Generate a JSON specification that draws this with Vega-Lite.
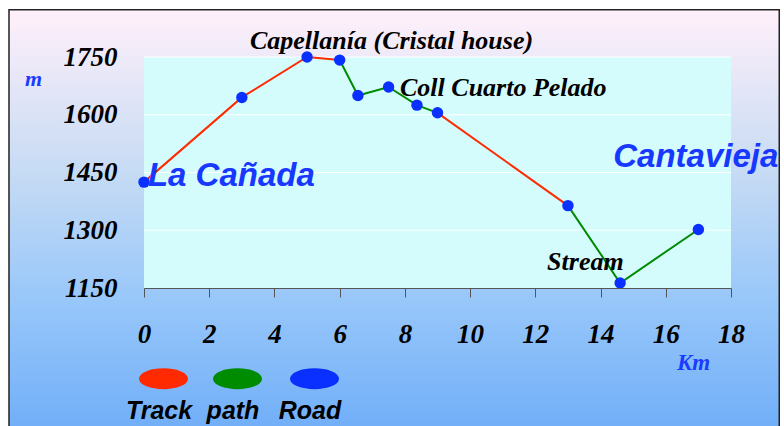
{
  "$schema": "https://vega.github.io/schema/vega-lite/v6.json",
  "width": 587,
  "height": 231,
  "autosize": {"type": "none"},
  "padding": {"left": 144, "top": 57, "right": 53, "bottom": 138},
  "background": "white",
  "view": {"stroke": null},
  "datasets": {
    "segments": [
      {"seg": "s1", "type": "Track", "km": 0, "m": 1425},
      {"seg": "s1", "type": "Track", "km": 3, "m": 1645},
      {"seg": "s1", "type": "Track", "km": 5, "m": 1750},
      {"seg": "s1", "type": "Track", "km": 6, "m": 1742},
      {"seg": "s2", "type": "path", "km": 6, "m": 1742},
      {"seg": "s2", "type": "path", "km": 6.56, "m": 1650},
      {"seg": "s2", "type": "path", "km": 7.5, "m": 1672},
      {"seg": "s2", "type": "path", "km": 8.37, "m": 1625},
      {"seg": "s2", "type": "path", "km": 9, "m": 1605},
      {"seg": "s3", "type": "Track", "km": 9, "m": 1605},
      {"seg": "s3", "type": "Track", "km": 13, "m": 1364},
      {"seg": "s4", "type": "path", "km": 13, "m": 1364},
      {"seg": "s4", "type": "path", "km": 14.6, "m": 1163},
      {"seg": "s4", "type": "path", "km": 17, "m": 1302}
    ],
    "points": [
      {"km": 0, "m": 1425},
      {"km": 3, "m": 1645},
      {"km": 5, "m": 1750},
      {"km": 6, "m": 1742},
      {"km": 6.56, "m": 1650},
      {"km": 7.5, "m": 1672},
      {"km": 8.37, "m": 1625},
      {"km": 9, "m": 1605},
      {"km": 13, "m": 1364},
      {"km": 14.6, "m": 1163},
      {"km": 17, "m": 1302}
    ],
    "notes": [
      {"label": "Capellanía (Cristal house)", "km": 3.25, "m": 1792},
      {"label": "Coll Cuarto Pelado", "km": 7.85, "m": 1669},
      {"label": "Stream", "km": 12.36, "m": 1218}
    ],
    "places": [
      {"label": "La Cañada", "km": 0.12, "m": 1442},
      {"label": "Cantavieja", "km": 14.39, "m": 1489}
    ],
    "grid": [{"m": 1300}, {"m": 1450}, {"m": 1600}, {"m": 1750}]
  },
  "layer": [
    {
      "data": {"values": [{}]},
      "mark": {"type": "rect", "clip": false, "stroke": "#222222", "strokeWidth": 1.5,
        "fill": {"gradient": "linear", "x1": 0, "y1": 0, "x2": 0, "y2": 1,
          "stops": [
            {"offset": 0, "color": "#fff0fa"},
            {"offset": 0.4, "color": "#c4daf4"},
            {"offset": 0.7, "color": "#96c6fa"},
            {"offset": 1, "color": "#70aef8"}
          ]}},
      "encoding": {
        "x": {"datum": -4.14, "type": "quantitative", "scale": {"domain": [0, 18], "nice": false, "zero": false}},
        "x2": {"datum": 19.48},
        "y": {"datum": 1873, "type": "quantitative", "scale": {"domain": [1150, 1750], "nice": false, "zero": false}},
        "y2": {"datum": 775}
      }
    },
    {
      "data": {"values": [{}]},
      "mark": {"type": "rect", "fill": "#d4fcfc", "clip": false},
      "encoding": {
        "x": {"datum": 0, "type": "quantitative", "scale": {"domain": [0, 18], "nice": false, "zero": false}},
        "x2": {"datum": 18},
        "y": {"datum": 1150, "type": "quantitative", "scale": {"domain": [1150, 1750], "nice": false, "zero": false}},
        "y2": {"datum": 1750}
      }
    },
    {
      "data": {"name": "grid"},
      "mark": {"type": "rule", "color": "white", "strokeWidth": 1},
      "encoding": {
        "y": {"field": "m", "type": "quantitative", "scale": {"domain": [1150, 1750], "nice": false, "zero": false}}
      }
    },
    {
      "data": {"name": "segments"},
      "mark": {"type": "line", "strokeWidth": 2, "clip": false},
      "encoding": {
        "x": {"field": "km", "type": "quantitative",
          "scale": {"domain": [0, 18], "nice": false, "zero": false},
          "axis": {"title": "Km", "zindex": 1, "values": [0, 2, 4, 6, 8, 10, 12, 14, 16, 18], "format": "d",
            "grid": false, "tickSize": 9, "tickColor": "#555555", "domainColor": "#555555",
            "labelFont": "Liberation Serif", "labelFontSize": 27, "labelFontStyle": "italic", "labelFontWeight": "bold",
            "labelColor": "black", "labelPadding": 37, "labelBaseline": "middle", "labelFlush": false,
            "titleFont": "Liberation Serif", "titleFontSize": 23, "titleFontStyle": "italic", "titleFontWeight": "bold",
            "titleColor": "#1a3cff", "titleX": 549, "titleY": 74, "titleAlign": "center", "titleBaseline": "middle"}},
        "y": {"field": "m", "type": "quantitative",
          "scale": {"domain": [1150, 1750], "nice": false, "zero": false},
          "axis": {"title": "m", "zindex": 1, "values": [1150, 1300, 1450, 1600, 1750], "format": "d",
            "grid": false, "ticks": false, "domain": false,
            "labelFont": "Liberation Serif", "labelFontSize": 27, "labelFontStyle": "italic", "labelFontWeight": "bold",
            "labelColor": "black", "labelPadding": 27, "labelBaseline": "middle", "labelFlush": false,
            "titleFont": "Liberation Serif", "titleFontSize": 22, "titleFontStyle": "italic", "titleFontWeight": "bold",
            "titleColor": "#1a3cff", "titleAngle": 0, "titleX": -111, "titleY": 21, "titleAlign": "center", "titleBaseline": "middle"}},
        "detail": {"field": "seg"},
        "color": {"field": "type", "type": "nominal",
          "scale": {"domain": ["Track", "path", "Road"], "range": ["#ff2a00", "#008c00", "#0a30ff"]},
          "legend": {"orient": "none", "legendX": -5, "legendY": 297, "direction": "horizontal", "title": null,
            "padding": 0, "columnPadding": 13,
            "symbolType": "M-1,0A1,0.4,0,1,1,1,0A1,0.4,0,1,1,-1,0Z", "symbolSize": 2209,
            "symbolStrokeWidth": 2, "symbolStrokeColor": "white",
            "labelFont": "Liberation Sans", "labelFontSize": 25, "labelFontStyle": "italic", "labelFontWeight": "bold",
            "labelColor": "black", "labelAlign": "center", "labelBaseline": "middle", "labelOffset": -29,
            "encode": {
              "symbols": {"update": {"fill": {"scale": "color", "field": "value"}, "stroke": {"value": "white"}, "strokeWidth": {"value": 2}, "opacity": {"value": 1}}},
              "labels": {"update": {"dy": {"value": 32}}}
            }}}
      }
    },
    {
      "data": {"name": "points"},
      "mark": {"type": "circle", "size": 130, "color": "#0a30ff", "opacity": 1, "clip": false},
      "encoding": {
        "x": {"field": "km", "type": "quantitative", "scale": {"domain": [0, 18], "nice": false, "zero": false}},
        "y": {"field": "m", "type": "quantitative", "scale": {"domain": [1150, 1750], "nice": false, "zero": false}}
      }
    },
    {
      "data": {"name": "notes"},
      "mark": {"type": "text", "align": "left", "baseline": "middle", "font": "Liberation Serif", "fontSize": 26,
        "fontStyle": "italic", "fontWeight": "bold", "color": "black", "clip": false},
      "encoding": {
        "x": {"field": "km", "type": "quantitative", "scale": {"domain": [0, 18], "nice": false, "zero": false}},
        "y": {"field": "m", "type": "quantitative", "scale": {"domain": [1150, 1750], "nice": false, "zero": false}},
        "text": {"field": "label"}
      }
    },
    {
      "data": {"name": "places"},
      "mark": {"type": "text", "align": "left", "baseline": "middle", "font": "Liberation Sans", "fontSize": 33,
        "fontStyle": "italic", "fontWeight": "bold", "color": "#1838ff", "clip": false},
      "encoding": {
        "x": {"field": "km", "type": "quantitative", "scale": {"domain": [0, 18], "nice": false, "zero": false}},
        "y": {"field": "m", "type": "quantitative", "scale": {"domain": [1150, 1750], "nice": false, "zero": false}},
        "text": {"field": "label"}
      }
    }
  ]
}
